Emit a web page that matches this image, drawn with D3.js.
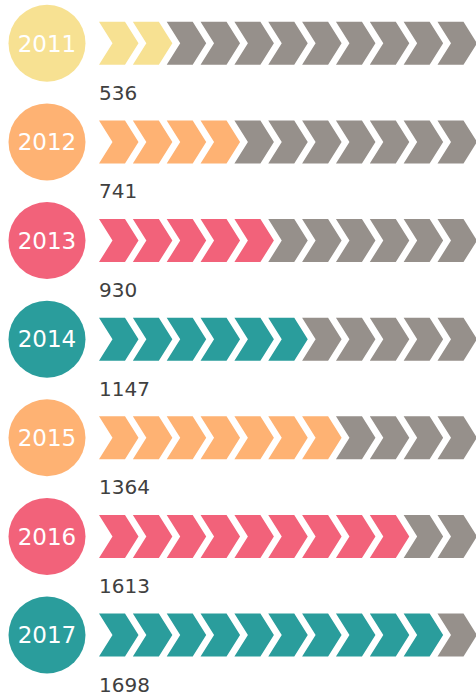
<!DOCTYPE html>
<meta charset="utf-8" />
<title>Yearly chevrons</title>
<style>
  body { margin: 0; background: #fff; font-family: "DejaVu Sans", sans-serif; }
  svg { display: block; }
  text.year { fill: #fff; font-size: 23px; }
  text.value { fill: #404040; font-size: 20px; }
</style>
<body>
<svg width="476" height="696"></svg>
<script src="https://d3js.org/d3.v7.min.js"></script>
<script>
  const years = ["2011", "2012", "2013", "2014", "2015", "2016", "2017"];
  const values = [536, 741, 930, 1147, 1364, 1613, 1698];
  // filled chevrons out of 11
  const filled = [2, 4, 5, 6, 7, 9, 10];
  const colors = ["#f7e192", "#feb273", "#f2627a", "#2a9d9c", "#feb273", "#f2627a", "#2a9d9c"];
  const grey = "#96908b";
  const slots = d3.range(11);

  const svg = d3.select("svg");

  const y = d3.scalePoint().domain(years).range([43.3, 635]);
  const x = d3.scaleLinear().domain([0, 10]).range([99, 437.5]);

  const chevH = 43, flat = 26, depth = 13.5;
  const chevron = d3.line()([
    [0, -chevH / 2], [flat, -chevH / 2], [flat + depth, 0],
    [flat, chevH / 2], [0, chevH / 2], [depth, 0]
  ]) + "Z";

  const row = svg.selectAll("g.row")
    .data(years)
    .join("g")
    .attr("class", "row")
    .attr("transform", d => `translate(0,${y(d)})`);

  row.append("circle")
    .attr("cx", 47)
    .attr("r", 38.5)
    .attr("fill", (d, i) => colors[i]);

  row.append("text")
    .attr("class", "year")
    .attr("x", 47)
    .attr("dy", "0.36em")
    .attr("text-anchor", "middle")
    .text(d => d);

  row.each(function (d, i) {
    d3.select(this).selectAll("path")
      .data(slots)
      .join("path")
      .attr("d", chevron)
      .attr("transform", s => `translate(${x(s)},0)`)
      .attr("fill", s => s < filled[i] ? colors[i] : grey);
  });

  row.append("text")
    .attr("class", "value")
    .attr("x", 99)
    .attr("y", 56.5)
    .text((d, i) => values[i]);
</script>
</body>
